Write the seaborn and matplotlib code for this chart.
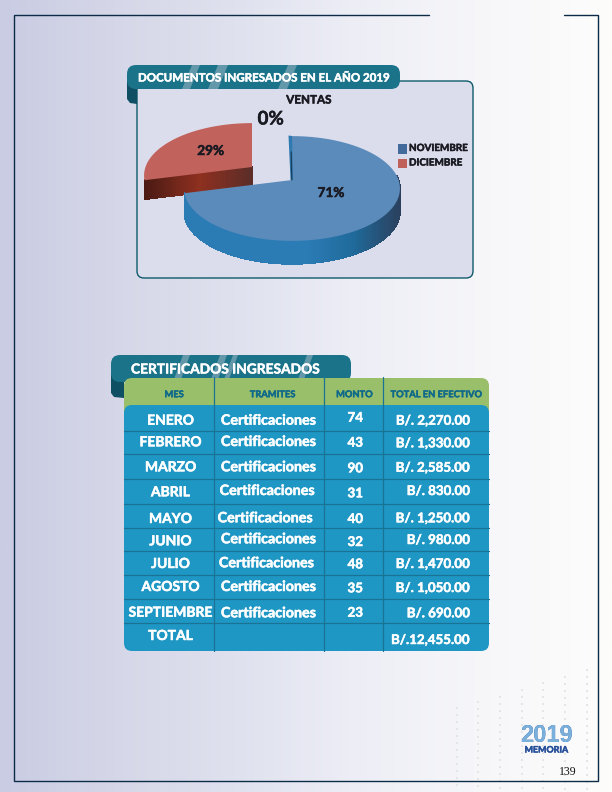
import numpy as np
import matplotlib
matplotlib.use("Agg")
import matplotlib.pyplot as plt
import matplotlib.patheffects as pe
from matplotlib.collections import PolyCollection
from matplotlib.colors import to_hex
from matplotlib.patches import FancyBboxPatch, Polygon, Rectangle
import seaborn as sns

# data
pie_title = "VENTAS"
pie_labels = ["NOVIEMBRE", "DICIEMBRE"]
pie_values = [71, 29]
zero_label = "0%"

meses = ["ENERO", "FEBRERO", "MARZO", "ABRIL", "MAYO", "JUNIO", "JULIO",
         "AGOSTO", "SEPTIEMBRE", "TOTAL"]
tramites = ["Certificaciones"] * 9 + [""]
montos = ["74", "43", "90", "31", "40", "32", "48", "35", "23", ""]
totales = ["B/. 2,270.00", "B/. 1,330.00", "B/. 2,585.00", "B/. 830.00",
           "B/. 1,250.00", "B/. 980.00", "B/. 1,470.00", "B/. 1,050.00",
           "B/. 690.00", "B/.12,455.00"]
headers = ["MES", "TRAMITES", "MONTO", "TOTAL EN EFECTIVO"]

# layout, page pixels
col_lines = [213.5, 323.7, 383.3]
row_lines = [431, 454.3, 479.3, 504, 528.3, 551.3, 575.3, 599.3, 623.3]
mes_y = [420.7, 442.3, 467.3, 492.3, 519, 541.3, 564, 587, 612.7, 636]
tram_x = [268.3, 268.3, 268.3, 267, 265, 268.3, 266.3, 268.3, 268.3, 268.3]
tram_y = [420.7, 442, 467.3, 491, 518.3, 539.3, 563.3, 587, 613.3, 636]
monto_y = [417.7, 442.7, 468.3, 493.3, 519, 542, 564.3, 588.3, 612.7, 636]
total_y = [420.7, 443.3, 467.7, 491, 518.3, 540, 564, 588, 613.3, 640]
dot_cols = [457, 478, 500, 522, 543, 565, 587]
dot_tops = [708, 702, 697, 690, 683, 677, 670]

NAVY = "#0c2b47"
TEAL = "#1a7389"
FOLD = "#0e4f63"
STRIPE = "#6398aa"
BODY = "#1f97c4"
GRID = "#1a7395"
GREEN = "#9abf6a"
HEAD = "#0f6a8a"
DARK = "#1a1a22"

sns.set_theme(style="white")
plt.rcParams["font.family"] = ["Lato", "DejaVu Sans"]

fig = plt.figure(figsize=(6.12, 7.92), dpi=100)
ax = fig.add_axes([0, 0, 1, 1])
ax.set_xlim(0, 612)
ax.set_ylim(792, 0)
ax.axis("off")

# page background
bg = sns.blend_palette(["#c9cce3", "#d6d7e8", "#e0e2ef", "#eeeff6", "#f7f7fa", "#fdfdfc"], 256)
ax.imshow(np.array(bg)[None, :, :], extent=[0, 612, 792, 0], aspect="auto", zorder=0)
ax.set_xlim(0, 612)
ax.set_ylim(792, 0)

# dots, bottom right
for x, top in zip(dot_cols, dot_tops):
    ys = np.arange(top, 792, 7)
    ax.scatter([x] * len(ys), ys, s=4.5, marker="s", color="#e4e4e9", linewidths=0, zorder=1)

# page frame
ax.plot([429, 13.5, 13.5, 597.5, 597.5, 564], [14.5, 14.5, 781, 781, 14.5, 14.5],
        color=NAVY, lw=1, solid_joinstyle="miter", zorder=2)


def label(x, y, s, color, fs, ha="center", heavy=0.35, z=9):
    t = ax.text(x, y, s, color=color, fontsize=fs, fontweight="bold", ha=ha, va="center", zorder=z)
    t.set_path_effects([pe.withStroke(linewidth=heavy, foreground=color)])
    return t


def rounded(x0, y0, x1, y1, r, **kw):
    p = FancyBboxPatch((x0, y0), x1 - x0, y1 - y0,
                       boxstyle=f"round,pad=0,rounding_size={r}", **kw)
    ax.add_patch(p)
    return p


def banner(x0, y0, x1, y1, fold_x, fold_y, stripes, text, tx, fs):
    ax.add_patch(Polygon([(x0, y0 + 14), (x0, fold_y - 5), (x0 + 3, fold_y - 1), (fold_x, fold_y),
                          (fold_x, y1 - 1)], closed=True, color=FOLD, lw=0, zorder=3))
    b = rounded(x0, y0, x1, y1, 9, fc=TEAL, ec="none", zorder=4)
    for s0, s1 in stripes:
        st = Polygon([(s0, y0), (s1, y0), (s1 - 10, y1), (s0 - 10, y1)], closed=True,
                     color=STRIPE, lw=0, zorder=5)
        ax.add_patch(st)
        st.set_clip_path(b)
    label(tx, (y0 + y1) / 2 + 1, text, "white", fs, ha="left", z=6)


# --- pie panel ---
rounded(137, 81, 473, 278, 7, fc="#dcddec", ec="#0e5a6a", lw=1, zorder=2)
banner(127, 65, 400, 89, 137, 104, [(192, 200), (218, 228), (288, 297)],
       "DOCUMENTOS INGRESADOS EN EL AÑO 2019", 138, 8.3)

RX, RY, K = 106.5, 51, 0.162


def rim(cx, cy, start, sweep, n=160):
    # tilted disc seen in perspective, far side smaller
    t = np.radians(np.linspace(start, start - sweep, n))
    s = 1 / (1 + K * np.sin(t))
    return cx + RX * np.cos(t) * s, cy - RY * np.sin(t) * s


def strip(xa, ya, depth, pal, x0, x1):
    idx = np.clip((xa - x0) / (x1 - x0) * (len(pal) - 1), 0, len(pal) - 1).astype(int)
    quads = [[(xa[i], ya[i]), (xa[i + 1], ya[i + 1]),
              (xa[i + 1], ya[i + 1] + depth), (xa[i], ya[i] + depth)] for i in range(len(xa) - 1)]
    cols = [to_hex(pal[i]) for i in idx[:-1]]
    ax.add_collection(PolyCollection(quads, facecolors=cols, edgecolors=cols, linewidths=0.6,
                                     antialiaseds=False, zorder=3))


sweeps = [v / sum(pie_values) * 360 for v in pie_values]

# red slice, pulled out to the left
red_c = (252, 167)
rx, ry = rim(*red_c, 90 + sweeps[1], sweeps[1])
red_pal = sns.blend_palette(["#4a1a14", "#8f3020", "#5a2d28"], 64)
strip(np.linspace(rx[0], red_c[0], 60), np.linspace(ry[0], red_c[1], 60), 19, red_pal, rx[0], red_c[0])
ax.add_patch(Polygon(list(zip(rx, ry)) + [red_c], closed=True, fc="#c1625c", ec="none", zorder=3))

# blue slice
blue_c = (292, 180)
bx, by = rim(*blue_c, 90, sweeps[0], 400)
front = np.radians(np.linspace(90, 90 - sweeps[0], 400)) < np.radians(5)
blue_pal = sns.blend_palette(["#2b7bb5", "#2b7bb5", "#1f6a9a", "#2b3f5c"], 64)
strip(bx[front], by[front], 23, blue_pal, 260, 399)
ax.add_patch(Polygon(list(zip(bx, by)) + [blue_c], closed=True, fc="#5b8bbb", ec="none", zorder=4))

# the 0% sliver
ax.add_patch(Polygon([(288.5, 135.5), (292, 136), (293, 180), (290.5, 180)], closed=True,
                     fc="#2e7ab0", ec="none", zorder=5))
ax.plot([291.2, 291.8], [152, 180], color="#1d3f5e", lw=0.9, zorder=5)

label(308.7, 100, pie_title, DARK, 8.4, z=6)
label(270.7, 119, zero_label, DARK, 13.5, z=6)
label(331, 193, f"{pie_values[0]}%", DARK, 9.8, z=6)
label(210.7, 151, f"{pie_values[1]}%", DARK, 9.8, z=6)

for lab, col, y in zip(pie_labels, ["#44699b", "#c0605a"], [148.5, 163]):
    ax.add_patch(Rectangle((398, y - 4.5), 9, 9.5, fc=col, ec="none", zorder=6))
    label(409, y, lab, DARK, 7.1, ha="left", z=6)

# --- table ---
banner(111, 355, 351, 382, 124, 398, [(183, 190), (220, 227), (233, 238), (307, 313)],
       "CERTIFICADOS INGRESADOS", 131, 9.9)
rounded(124, 378, 489, 425, 8, fc=GREEN, ec="none", zorder=6)
rounded(124, 405, 489, 651, 8, fc=BODY, ec="none", zorder=7)
for y in row_lines:
    ax.plot([124, 489], [y, y], color=GRID, lw=0.9, zorder=8)
for x in col_lines:
    ax.plot([x, x], [377, 651], color=GRID, lw=0.9, zorder=8)

for x, h in zip([174, 272.3, 354.3, 435.7], headers):
    label(x, 394.7, h, HEAD, 6.7)

for i in range(len(meses)):
    label(170.5, mes_y[i], meses[i], "white", 10)
    t = label(tram_x[i], tram_y[i], tramites[i], "white", 10.3)
    if meses[i] == "ABRIL":
        # cut off at the bottom in the original
        t.set_clip_path(Rectangle((213, 480), 110, 13, transform=ax.transData))
    label(355.3, monto_y[i], montos[i], "white", 9.6)
    label(470, total_y[i], totales[i], "white", 9.6, ha="right")

# --- logo and page number ---
# two tone year: dark on top, light below
for col, z in [("#27509b", 9), ("#79b0dc", 10)]:
    t = ax.text(546.5, 735, "2019", color=col, fontsize=17, fontweight="bold", ha="center", va="center",
                family=["Liberation Sans Narrow", "Liberation Sans"], zorder=z)
    if z == 10:
        t.set_clip_path(Rectangle((520, 737), 60, 14, transform=ax.transData))
label(546.5, 750, "MEMORIA", "#27509b", 6.4)
ax.text(568, 772, "139", color="#111111", fontsize=8.5, family="Liberation Serif",
        ha="center", va="center", zorder=9)

fig.savefig("out.png", dpi=100)
